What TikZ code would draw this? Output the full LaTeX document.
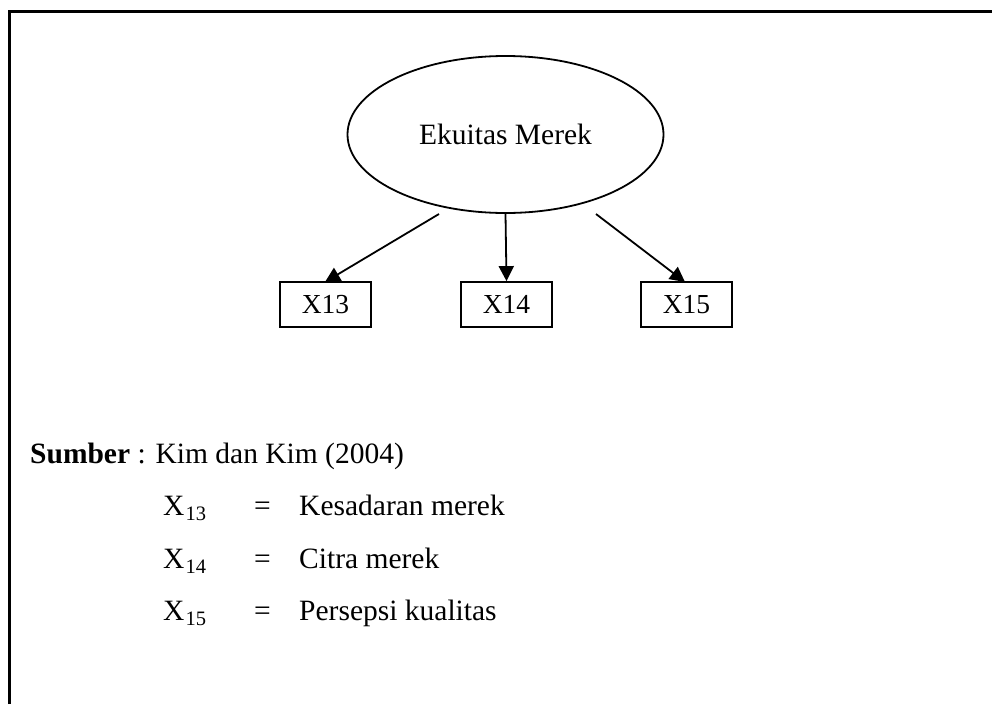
\documentclass[tikz,border=0pt]{standalone}
\usepackage{fontspec}
\setmainfont{Liberation Serif}
\usetikzlibrary{shapes.geometric,arrows.meta}
\begin{document}
\begin{tikzpicture}[x=1pt,y=-1pt,
  latent/.style={draw, ellipse, line width=1.8pt, minimum width=316pt, minimum height=157pt, inner sep=0pt,
    font=\fontsize{29.5}{34}\selectfont},
  indicator/.style={draw, rectangle, line width=1.8pt, minimum width=91pt, minimum height=45pt, inner sep=0pt,
    font=\fontsize{27.5}{32}\selectfont},
  link/.style={line width=1.8pt, -{Triangle[length=15pt,width=15pt]}},
  legend/.style={anchor=base west, inner sep=0pt, font=\fontsize{29.5}{34}\selectfont},
  frame/.style={line width=2.8pt}]
  \useasboundingbox (0,0) rectangle (992,704);
  % outer frame (open towards right and bottom)
  \draw[frame] (9.5,704) -- (9.5,11.5) -- (992,11.5);

  % latent construct
  \node[latent] (ek) at (505.5,134.5) {Ekuitas Merek};

  % indicators
  \node[indicator] (x13) at (325.5,304.5) {X13};
  \node[indicator] (x14) at (506.5,304.5) {X14};
  \node[indicator] (x15) at (686.5,304.5) {X15};

  % arrow starts just below the ellipse
  \coordinate (s13) at (439,214);
  \coordinate (s15) at (596,214);
  \coordinate (t13) at (325,282);
  \coordinate (t15) at (685,282);

  \draw[link] (s13) -- (t13);
  \draw[link] (ek.south) -- (x14.north);
  \draw[link] (s15) -- (t15);

  % source and legend
  \node[legend] (src) at (30,463) {\textbf{Sumber} : Kim dan Kim (2004)};

  \newcommand{\subnum}[1]{\raisebox{-5pt}{\fontsize{20.5}{22}\selectfont\hspace{1pt}#1}}
  \node[legend] (v13) at (163,515) {X\subnum{13}};
  \node[legend] (e13) at (254,515) {=};
  \node[legend] (d13) at (299,515) {Kesadaran merek};

  \node[legend] (v14) at (163,568) {X\subnum{14}};
  \node[legend] (e14) at (254,568) {=};
  \node[legend] (d14) at (299,568) {Citra merek};

  \node[legend] (v15) at (163,620) {X\subnum{15}};
  \node[legend] (e15) at (254,620) {=};
  \node[legend] (d15) at (299,620) {Persepsi kualitas};
\end{tikzpicture}
\end{document}
